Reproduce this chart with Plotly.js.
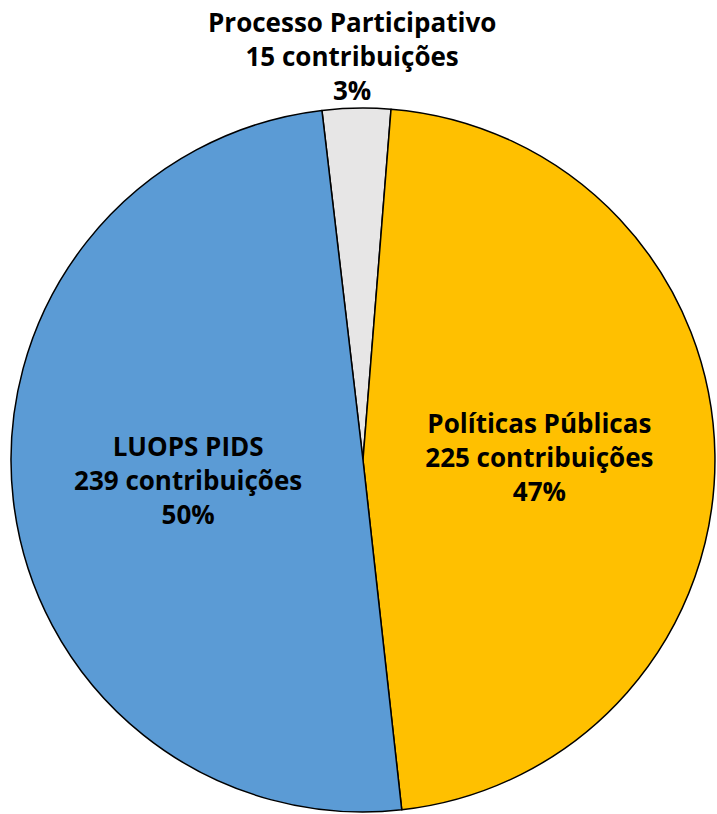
<!DOCTYPE html>
<html><head><meta charset="utf-8">
<script src="https://cdn.plot.ly/plotly-3.0.1.min.js"></script>
<style>html,body{margin:0;padding:0;background:#fff}#c{width:717px;height:814px}</style>
</head><body><div id="c"></div>
<script>
const labels = ['Processo Participativo', 'Políticas Públicas', 'LUOPS PIDS'];
const values = [15, 225, 239];
const colors = ['#E7E6E6', '#FFC000', '#5B9BD5'];
const textPositions = ['none', 'inside', 'inside'];
const unit = 'contribuições';

const total = values.reduce((a, b) => a + b, 0);
const font = {family: 'Open Sans', size: 26, color: '#000', weight: 'bold'};

Plotly.newPlot('c', [{
  type: 'pie',
  labels: labels,
  values: values,
  sort: false,
  direction: 'clockwise',
  rotation: -6.7,
  marker: {colors: colors, line: {color: '#000', width: 1.5}},
  textposition: textPositions,
  texttemplate: '%{label}<br>%{value} ' + unit + '<br>%{percent:.0%}',
  insidetextorientation: 'horizontal',
  textfont: font,
  hoverinfo: 'none',
  domain: {x: [0.0153, 0.9972], y: [0.0025, 0.8673]},
  showlegend: false
}], {
  width: 717, height: 814,
  margin: {l: 0, r: 0, t: 0, b: 0},
  paper_bgcolor: '#fff',
  showlegend: false,
  annotations: [{
    xref: 'paper', yref: 'paper', x: 0.491, y: 0.865,
    xanchor: 'center', yanchor: 'bottom', showarrow: false,
    text: labels[0] + '<br>' + values[0] + ' ' + unit + '<br>' + Math.round(values[0] / total * 100) + '%',
    font: font
  }]
}, {displayModeBar: false, staticPlot: true});
</script></body></html>
